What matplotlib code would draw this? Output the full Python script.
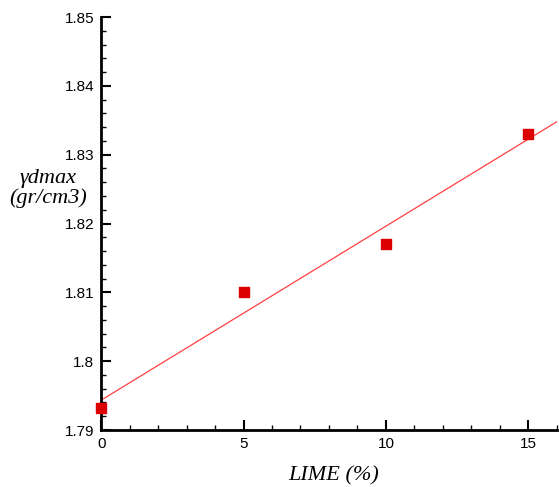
import matplotlib.pyplot as plt
from matplotlib.ticker import MultipleLocator
import numpy as np

# data
lime = [0, 5, 10, 15]
gdmax = [1.7932, 1.8100, 1.8170, 1.8330]

# least squares trend line
slope, icept = np.polyfit(lime, gdmax, 1)
xfit = np.array([0, 16])

fig = plt.figure(figsize=(5.59, 4.87), dpi=100)
ax = fig.add_axes([0.181, 0.117, 0.815, 0.848])

ax.plot(xfit, slope * xfit + icept, color='#ff4040', lw=0.9, zorder=2)
ax.scatter(lime, gdmax, marker='s', s=55, color='#dd0000', zorder=5, clip_on=False)

ax.set_xlim(0, 16)
ax.set_ylim(1.79, 1.85)
ax.xaxis.set_major_locator(MultipleLocator(5))
ax.xaxis.set_minor_locator(MultipleLocator(1))
ax.yaxis.set_major_locator(MultipleLocator(0.01))
ax.yaxis.set_minor_locator(MultipleLocator(0.002))
ax.set_yticks([1.79, 1.8, 1.81, 1.82, 1.83, 1.84, 1.85])
ax.set_yticklabels(['1.79', '1.8', '1.81', '1.82', '1.83', '1.84', '1.85'])

for s in ['top', 'right']:
    ax.spines[s].set_visible(False)
for s in ['left', 'bottom']:
    ax.spines[s].set_linewidth(2)

ax.tick_params(which='major', direction='in', length=7, width=1.5, pad=5,
               labelsize=11)
ax.tick_params(which='minor', direction='in', length=3.5, width=1)
for lab in ax.get_xticklabels() + ax.get_yticklabels():
    lab.set_fontfamily('Liberation Sans')

ax.set_xlabel('LIME (%)', family='Liberation Serif', style='italic', fontsize=16,
              va='center')
ax.xaxis.set_label_coords(0.511, -0.11)
ax.set_ylabel('\u03b3dmax\n(gr/cm3)', family='Liberation Serif', style='italic',
              fontsize=16, rotation=0, linespacing=1.0, ha='center', va='center')
ax.yaxis.set_label_coords(-0.116, 0.585)

fig.savefig('out.png', dpi=100)
